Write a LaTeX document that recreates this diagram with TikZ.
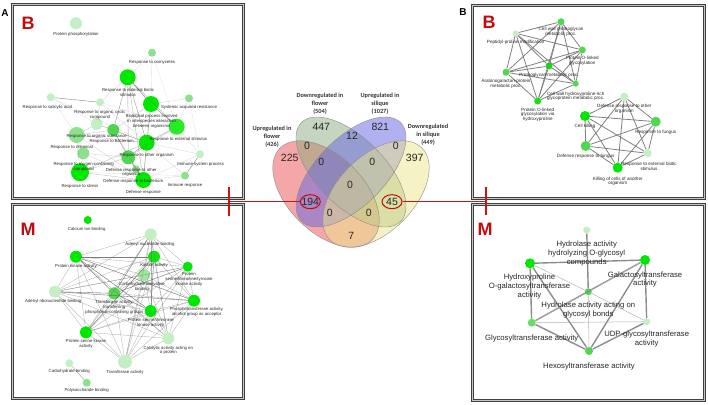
\documentclass[tikz,border=0pt]{standalone}
\usepackage{fontspec}
\setmainfont{Liberation Sans}
\newfontfamily\venfont{Carlito}
\usetikzlibrary{shapes.geometric}
\definecolor{gbright}{RGB}{0,232,0}
\definecolor{gmid}{RGB}{80,215,80}
\definecolor{glight}{RGB}{140,226,140}
\definecolor{gpale}{RGB}{196,238,196}
\definecolor{vred}{RGB}{236,95,95}
\definecolor{vgreen}{RGB}{140,172,128}
\definecolor{vblue}{RGB}{100,100,225}
\definecolor{vyellow}{RGB}{236,232,140}
\definecolor{darkred}{RGB}{195,10,10}
\definecolor{barred}{RGB}{205,20,20}
\begin{document}
\begin{tikzpicture}[x=1pt,y=-1pt,
  nd/.style={circle,inner sep=0pt,minimum size=#1pt},
  lt/.style={font=\fontsize{4.3}{4.7}\selectfont,align=center,inner sep=0pt,text=black!85},
  lr/.style={font=\fontsize{4.6}{4.8}\selectfont,align=center,inner sep=0pt,text=black!85},
  lb/.style={font=\fontsize{7.7}{8.7}\selectfont,align=center,inner sep=0pt,text=black!85},
  ed/.style={draw=black!60,line width=0.35pt,draw opacity=#1},
  re/.style={draw=black!50,line width=0.8pt},
  thk/.style={draw=black!45,line width=1.4pt},
  thn/.style={draw=black!30,line width=0.5pt},
  panel/.style={draw=black!75,line width=0.6pt,double=gray!45,double distance=1.8pt},
  bigl/.style={font=\fontsize{18}{18}\bfseries\selectfont,text=darkred,inner sep=0pt},
  pl/.style={font=\fontsize{10}{10}\bfseries\selectfont,inner sep=0pt},
  vnum/.style={font=\fontsize{10.5}{10.5}\selectfont,text=black!85,inner sep=0pt},
  vlab/.style={font=\venfont\fontsize{6.3}{8}\bfseries\selectfont,align=center,inner sep=0pt,text=black!80},
  ring/.style={ellipse,draw=darkred,line width=1pt,inner sep=0pt,minimum width=20pt,minimum height=14pt},
  rbar/.style={draw=barred,line width=2.6pt},
  rline/.style={draw=barred,line width=0.9pt}
]
\useasboundingbox (0,0) rectangle (708,404);

% ---------- panel frames ----------
\draw[panel] (12.5,4.5) rectangle (243.5,198.5);
\draw[panel] (12.5,204.5) rectangle (243.5,398.5);
\draw[panel] (472.5,5.5) rectangle (704.5,198.5);
\draw[panel] (472.5,204.5) rectangle (704.5,400.5);

\node[pl] (labA) at (5,13) {A};
\node[pl] (labB) at (463,12) {B};
\node[bigl] (tBig) at (28,23) {B};
\node[bigl] (bBig) at (28,229) {M};
\node[bigl] (rBig) at (489,22) {B};
\node[bigl] (qBig) at (485,229) {M};

% ---------- top-left network ----------
\node[nd=12,fill=gpale]   (tA) at (76,23.3) {};
\node[nd=8,fill=glight]   (tB) at (152,52.7) {};
\node[nd=16,fill=gbright] (tC) at (127.7,77.3) {};
\node[nd=8,fill=gpale]    (tD) at (50.7,97.3) {};
\node[nd=8,fill=gpale]    (tE) at (100,102.3) {};
\node[nd=16,fill=gbright] (tF) at (151,104) {};
\node[nd=8,fill=glight]   (tG) at (189,98.3) {};
\node[nd=16,fill=gbright!85!white] (tH) at (176.7,126.7) {};
\node[nd=12,fill=gpale]   (tI) at (96.7,124) {};
\node[nd=12,fill=gmid]    (tJ) at (113.3,130) {};
\node[nd=16,fill=glight]  (tK) at (76.7,135) {};
\node[nd=16,fill=gbright] (tM) at (146.7,142.7) {};
\node[nd=12,fill=glight]  (tL) at (83.3,153.3) {};
\node[nd=14,fill=gmid]    (tN) at (128.3,157.3) {};
\node[nd=8,fill=gpale]    (tO) at (200,154.3) {};
\node[nd=18,fill=gbright] (tP) at (80,172.3) {};
\node[nd=8,fill=glight]   (tQ) at (136,169.3) {};
\node[nd=16,fill=gbright] (tR) at (143.3,180) {};
\node[nd=8,fill=glight]   (tS) at (185,175.7) {};

\foreach \u/\v/\o in {tC/tF/1,tD/tE/0.9,tO/tS/0.9,tF/tH/0.85,tC/tH/0.6,tC/tJ/0.75,tC/tM/0.75,
  tC/tN/0.6,tF/tM/0.6,tH/tM/0.6,tM/tN/0.75,tM/tR/0.6,tN/tR/0.75,tJ/tM/0.6,tJ/tN/0.6,tK/tM/0.5,
  tK/tJ/0.4,tI/tJ/0.4,tK/tP/0.45,tL/tP/0.45,tP/tM/0.45,tP/tR/0.45,tK/tL/0.4,tI/tK/0.4,tE/tI/0.4,
  tH/tN/0.4,tQ/tR/0.6,tQ/tN/0.6,tF/tJ/0.4,tC/tR/0.55,tF/tR/0.4,tB/tH/0.2,tB/tC/0.2,tB/tF/0.2,
  tG/tH/0.25,tG/tF/0.25,tD/tK/0.2,tD/tI/0.2,tD/tM/0.2,tE/tM/0.25,tO/tM/0.25,tO/tH/0.25,tO/tR/0.25,
  tS/tR/0.3,tS/tM/0.25,tE/tH/0.2,tG/tO/0.2,tP/tS/0.2,tK/tR/0.3,tL/tR/0.3,tI/tM/0.3,
  tE/tC/0.25,tJ/tR/0.4,tP/tN/0.4,tL/tN/0.3}
  {\draw[ed=\o] (\u) -- (\v);}

\node[lt] (ltA) at (76,34.7) {Protein phosphorylation};
\node[lt] (ltB) at (152,62) {Response to oomycetes};
\node[lt] (ltC) at (128,92.3) {Response to external biotic\\stimulus};
\node[lt] (ltD) at (47.3,107) {Response to salicylic acid};
\node[lt] (ltG) at (189,107.3) {Systemic acquired resistance};
\node[lt] (ltE) at (100,114.8) {Response to organic cyclic\\compound};
\node[lt] (ltF) at (151.7,121.3) {Biological process involved\\in interspecies interaction\\between organisms};
\node[lt] (ltI) at (96.7,136) {Response to organic substance};
\node[lt] (ltH) at (178.3,139.3) {Response to external stimulus};
\node[lt] (ltJ) at (111.7,141.7) {Response to bacterium};
\node[lt] (ltK) at (71.7,147.7) {Response to chemical};
\node[lt] (ltM) at (146.7,155) {Response to other organism};
\node[lt] (ltO) at (200.7,164.3) {Immune system process};
\node[lt] (ltL) at (83.7,167.2) {Response to oxygen-containing\\compound};
\node[lt] (ltN) at (131.3,172.3) {Defense response to other\\organism};
\node[lt] (ltQ) at (133.3,181.3) {Defense response to bacterium};
\node[lt] (ltS) at (185,185.3) {Immune response};
\node[lt] (ltP) at (80,186) {Response to stress};
\node[lt] (ltR) at (143.3,192.7) {Defense response};

% ---------- bottom-left network ----------
\node[nd=8,fill=gbright]  (bA) at (87.7,220) {};
\node[nd=12,fill=gpale]   (bB) at (150.7,234.3) {};
\node[nd=12,fill=gbright] (bC) at (76,256.7) {};
\node[nd=12,fill=gbright!80!gmid] (bD) at (154,256.7) {};
\node[nd=10,fill=gbright] (bE) at (187.7,266.7) {};
\node[nd=12,fill=glight!70!gpale] (bF) at (144,275) {};
\node[nd=12,fill=gpale]   (bG) at (55,291.7) {};
\node[nd=12,fill=gmid]    (bH) at (114.3,293.3) {};
\node[nd=12,fill=gbright] (bI) at (194,300.7) {};
\node[nd=12,fill=gbright] (bJ) at (150.7,311) {};
\node[nd=12,fill=gbright] (bK) at (86,332.3) {};
\node[nd=12,fill=gpale]   (bL) at (168.3,338.3) {};
\node[nd=14,fill=gpale]   (bM) at (125,361.7) {};
\node[nd=8,fill=gpale]    (bN) at (69.3,363.3) {};
\node[nd=8,fill=glight]   (bO) at (86.7,382.7) {};

\foreach \a [count=\i] in {bB,bC,bD,bE,bF,bG,bH,bI,bJ,bK,bL,bM}{
  \foreach \b [count=\j] in {bB,bC,bD,bE,bF,bG,bH,bI,bJ,bK,bL,bM}{
    \ifnum\j>\i \draw[ed=0.5] (\a) -- (\b); \fi}}
\foreach \u/\v in {bC/bD,bC/bI,bC/bJ,bG/bI,bH/bJ,bD/bJ,bC/bH,bK/bD,bE/bH,bB/bH,bG/bH}
  {\draw[ed=0.7] (\u) -- (\v);}
\draw[ed=0.7] (bN) -- (bO);

\node[lt] (lbA) at (86.7,229) {Calcium ion binding};
\node[lt] (lbB) at (150,244.3) {Adenyl nucleotide binding};
\node[lt] (lbC) at (76,266) {Protein kinase activity};
\node[lt] (lbD) at (154,265.7) {Kinase activity};
\node[lt] (lbE) at (189,279.3) {Protein\\serine/threonine/tyrosine\\kinase activity};
\node[lt] (lbF) at (142,287) {Carbohydrate derivative\\binding};
\node[lt] (lbG) at (53.3,301.7) {Adenyl ribonucleotide binding};
\node[lt] (lbH) at (114.3,307.5) {Transferase activity,\\transferring\\phosphorus-containing groups};
\node[lt] (lbI) at (196.7,312.2) {Phosphotransferase activity,\\alcohol group as acceptor};
\node[lt] (lbJ) at (150.7,322.7) {Protein serine/threonine\\kinase activity};
\node[lt] (lbK) at (86,343.7) {Protein serine kinase\\activity};
\node[lt] (lbL) at (168.3,350.3) {Catalytic activity acting on\\a protein};
\node[lt] (lbM) at (125,372.7) {Transferase activity};
\node[lt] (lbN) at (69.3,371.7) {Carbohydrate binding};
\node[lt] (lbO) at (86.7,390) {Polysaccharide binding};

% ---------- top-right network ----------
\node[nd=7,fill=gmid]    (rA) at (561,21.7) {};
\node[nd=6,fill=gpale]   (rB) at (515.7,33.3) {};
\node[nd=7,fill=gmid]    (rC) at (582.3,50) {};
\node[nd=7,fill=gbright] (rD) at (549,66) {};
\node[nd=7,fill=gmid]    (rE) at (506,72.3) {};
\node[nd=6,fill=gmid]    (rF) at (575.7,83.7) {};
\node[nd=7,fill=gbright!80!gmid] (rG) at (537.7,101) {};
\node[nd=8,fill=gpale]   (rH) at (624.3,96.7) {};
\node[nd=10,fill=gbright] (rI) at (585,116) {};
\node[nd=10,fill=gmid]   (rJ) at (655.7,121.7) {};
\node[nd=10,fill=gmid]   (rK) at (585.7,146) {};
\node[nd=8,fill=gpale]   (rL) at (647.7,153.3) {};
\node[nd=10,fill=gbright] (rM) at (617.7,167.7) {};

\foreach \a [count=\i] in {rA,rB,rC,rD,rE,rF,rG}{
  \foreach \b [count=\j] in {rA,rB,rC,rD,rE,rF,rG}{
    \ifnum\j>\i \draw[re] (\a) -- (\b); \fi}}
\foreach \a [count=\i] in {rH,rI,rJ,rK,rL,rM}{
  \foreach \b [count=\j] in {rH,rI,rJ,rK,rL,rM}{
    \ifnum\j>\i \draw[re] (\a) -- (\b); \fi}}

\node[lr] (lrA) at (561,32) {Cell wall proteoglycan\\metabolic proc.};
\node[lr] (lrB) at (515.7,42) {Peptidyl-proline modification};
\node[lr] (lrC) at (582.3,61) {Protein O-linked\\glycosylation};
\node[lr] (lrD) at (549,75.7) {Proteoglycan metabolic proc.};
\node[lr] (lrE) at (506,83.8) {Arabinogalactan-protein\\metabolic proc.};
\node[lr] (lrF) at (575.7,96.3) {Cell wall hydroxyproline-rich\\glycoprotein metabolic proc.};
\node[lr] (lrG) at (537.7,114.7) {Protein O-linked\\glycosylation via\\hydroxyproline};
\node[lr] (lrH) at (624.3,109) {Defense response to other\\organism};
\node[lr] (lrI) at (585,126.7) {Cell killing};
\node[lr] (lrJ) at (655.7,132.7) {Response to fungus};
\node[lr] (lrK) at (585.7,156.7) {Defense response to fungus};
\node[lr] (lrL) at (649,166.5) {Response to external biotic\\stimulus};
\node[lr] (lrM) at (617.7,181.3) {Killing of cells of another\\organism};

% ---------- bottom-right network ----------
\node[nd=7,fill=gpale]    (qA) at (586.7,230) {};
\node[nd=10,fill=gbright] (qB) at (530,263.3) {};
\node[nd=10,fill=gbright] (qC) at (645,260) {};
\node[nd=7,fill=gmid]     (qD) at (588.3,291.7) {};
\node[nd=8,fill=gmid!80!gpale] (qE) at (531.7,322.7) {};
\node[nd=7,fill=gpale]    (qF) at (646.7,321.7) {};
\node[nd=8,fill=gmid]     (qG) at (589,351) {};

\foreach \u/\v in {qA/qD,qB/qC,qB/qG,qB/qE,qC/qG,qC/qE,qE/qG,qF/qG,qC/qF}
  {\draw[thk] (\u) -- (\v);}
\foreach \u/\v in {qB/qD,qC/qD,qD/qG,qD/qF,qE/qF,qE/qD}
  {\draw[thn] (\u) -- (\v);}

\node[lb] (lqA) at (586.7,253.5) {Hydrolase activity\\hydrolyzing O-glycosyl\\compounds};
\node[lb] (lqB) at (529.5,286.6) {Hydroxyproline\\O-galactosyltransferase\\activity};
\node[lb] (lqC) at (645,279.5) {Galactosyltransferase\\activity};
\node[lb] (lqD) at (588.3,310) {Hydrolase activity acting on\\glycosyl bonds};
\node[lb] (lqE) at (531.7,338.3) {Glycosyltransferase activity};
\node[lb] (lqF) at (646.7,339.2) {UDP-glycosyltransferase\\activity};
\node[lb] (lqG) at (589,366.7) {Hexosyltransferase activity};

% ---------- Venn diagram ----------
\fill[vred,fill opacity=0.55,rotate around={-45:(326,194)}] (326,194) ellipse [x radius=65pt,y radius=38pt];
\fill[vgreen,fill opacity=0.5,rotate around={-45:(351,172)}] (351,172) ellipse [x radius=70pt,y radius=34pt];
\fill[vblue,fill opacity=0.5,rotate around={45:(351,172)}] (351,172) ellipse [x radius=70pt,y radius=34pt];
\fill[vyellow,fill opacity=0.5,rotate around={45:(376,194)}] (376,194) ellipse [x radius=65pt,y radius=38pt];
\draw[black!45,line width=0.4pt,rotate around={-45:(326,194)}] (326,194) ellipse [x radius=65pt,y radius=38pt];
\draw[black!45,line width=0.4pt,rotate around={-45:(351,172)}] (351,172) ellipse [x radius=70pt,y radius=34pt];
\draw[black!45,line width=0.4pt,rotate around={45:(351,172)}] (351,172) ellipse [x radius=70pt,y radius=34pt];
\draw[black!45,line width=0.4pt,rotate around={45:(376,194)}] (376,194) ellipse [x radius=65pt,y radius=38pt];

\node[vlab] (sA) at (272,137) {Upregulated in\\flower\\(426)};
\node[vlab] (sB) at (320,103.5) {Downregulated in\\flower\\(504)};
\node[vlab] (sC) at (380,103.5) {Upregulated in\\silique\\(1027)};
\node[vlab] (sD) at (428,134.5) {Downregulated\\in silique\\(449)};

\node[vnum] (n447) at (321.3,126.7) {447};
\node[vnum] (n821) at (380.3,126.7) {821};
\node[vnum] (n12) at (352,136) {12};
\node[vnum] (n225) at (289.7,158.3) {225};
\node[vnum] (n397) at (414.7,158.3) {397};
\node[vnum] (nAB) at (307,145.7) {0};
\node[vnum] (nCD) at (395.7,145.7) {0};
\node[vnum] (nABC) at (321.3,162.3) {0};
\node[vnum] (nBCD) at (372.3,162.3) {0};
\node[vnum] (nABCD) at (350,185) {0};
\node[vnum] (n194) at (310.3,201.7) {194};
\node[vnum] (n45) at (392,201.7) {45};
\node[vnum] (nACD) at (329.7,213.3) {0};
\node[vnum] (nABD) at (368.7,213.3) {0};
\node[vnum] (n7) at (351.3,235.7) {7};

\node[ring] (c194) at (310.3,201.7) {};
\node[ring] (c45) at (392,201.7) {};

% ---------- red connectors ----------
\coordinate (lbT) at (229,187);
\coordinate (lbB) at (229,216);
\coordinate (lbM) at (229,201.7);
\coordinate (rbT) at (486,187);
\coordinate (rbB) at (486,215);
\coordinate (rbM) at (486,201.7);
\draw[rline] (lbM) -- (c194.west);
\draw[rline] (c45.east) -- (rbM);
\draw[rbar] (lbT) -- (lbB);
\draw[rbar] (rbT) -- (rbB);
\end{tikzpicture}
\end{document}
